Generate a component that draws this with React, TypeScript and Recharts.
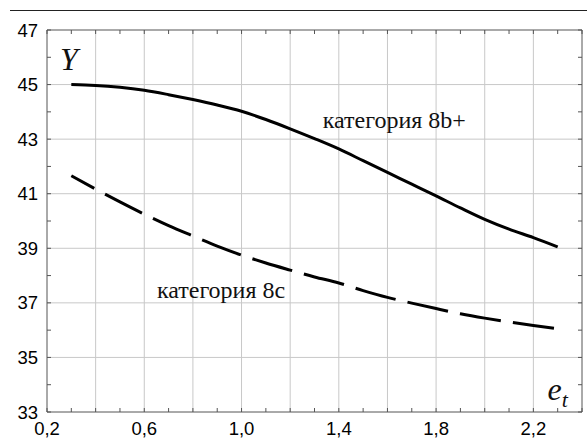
import React from 'react';
import { LineChart, Line, XAxis, YAxis, ReferenceDot } from 'recharts';

// e_t values
const xValues = [0.3, 0.4, 0.5, 0.6, 0.7, 0.8, 0.9, 1.0, 1.1, 1.2, 1.3, 1.4, 1.5, 1.6, 1.7, 1.8, 1.9, 2.0, 2.1, 2.2, 2.3];
// категория 8b+ (solid)
const series8bPlus = [45.0, 44.97, 44.9, 44.79, 44.63, 44.45, 44.25, 44.02, 43.72, 43.38, 43.02, 42.64, 42.21, 41.78, 41.35, 40.92, 40.48, 40.06, 39.7, 39.39, 39.05];
// категория 8c (dashed)
const series8c = [41.66, 41.17, 40.7, 40.25, 39.83, 39.45, 39.08, 38.75, 38.46, 38.2, 37.95, 37.73, 37.45, 37.2, 36.99, 36.79, 36.6, 36.44, 36.3, 36.17, 36.05];

const xTicks = [0.2, 0.3, 0.4, 0.5, 0.6, 0.7, 0.8, 0.9, 1.0, 1.1, 1.2, 1.3, 1.4, 1.5, 1.6, 1.7, 1.8, 1.9, 2.0, 2.1, 2.2, 2.3, 2.4];
const xLabelTicks = [0.2, 0.6, 1.0, 1.4, 1.8, 2.2];
const xGridTicks = [0.4, 0.6, 0.8, 1.0, 1.2, 1.4, 1.6, 1.8, 2.0, 2.2];
const yTicks = [33, 34, 35, 36, 37, 38, 39, 40, 41, 42, 43, 44, 45, 46, 47];
const yLabelTicks = [33, 35, 37, 39, 41, 43, 45, 47];
const yGridTicks = [35, 37, 39, 41, 43, 45];
const xDomain = [0.2, 2.4];
const yDomain = [33, 47];

const data = xValues.map((x, i) => ({ x, s8b: series8bPlus[i], s8c: series8c[i] }));
// grid lines as two-point series, built from the tick arrays
const vGrid = xGridTicks.map((v) => [{ x: v, g: yDomain[0] }, { x: v, g: yDomain[1] }]);
const hGrid = yGridTicks.map((v) => [{ x: xDomain[0], g: v }, { x: xDomain[1], g: v }]);

const has = (arr: number[], v: number) => arr.some((t) => Math.abs(t - v) < 1e-6);
const fmtX = (v: number) => (has(xLabelTicks, v) ? v.toFixed(1).replace('.', ',') : '');
const fmtY = (v: number) => (has(yLabelTicks, v) ? String(v) : '');
const fmtNone = () => '';

const tickStyle = { fill: '#000', fontSize: 18.5, fontFamily: '"Liberation Sans", Arial, sans-serif' };
const frame = '#555';
const gridColor = '#c8c8c8';
const serifStyle = { fontFamily: '"Liberation Serif", "Times New Roman", serif' };

// long-dash pattern (first dash shortened, then regular dashes)
const dashPattern = [26.2, 12.2, 41.5, 12.2, 41.5, 12.2, 41.5, 12.2, 41.5, 12.2, 41.5, 12.2, 41.5, 12.2, 41.5, 12.2, 41.5, 12.2, 41.5, 12.2, 41.5, 12.2, 60, 12].join(' ');

const textLabel = (render: (x: number, y: number) => React.ReactNode) => (props: any) => {
  const vb = props.viewBox || {};
  return render(vb.x + (vb.width || 0) / 2, vb.y + (vb.height || 0) / 2);
};

export default function App() {
  return (
    <div style={{ position: 'absolute', left: 0, top: 0, width: 587, height: 444, background: '#fff' }}>
      <div style={{ position: 'absolute', left: 10, top: 10, width: 577, height: 1.3, background: '#222' }} />
      <LineChart width={587} height={444} data={data} margin={{ top: 29, right: 4, bottom: 0, left: 0 }}>
        <XAxis
          xAxisId="xt"
          dataKey="x"
          orientation="top"
          type="number"
          domain={xDomain}
          ticks={xTicks}
          interval={0}
          tickSize={-4}
          tickFormatter={fmtNone}
          tick={{ fontSize: 1, fill: 'none' }}
          height={1}
          stroke={frame}
          allowDataOverflow
        />
        <YAxis
          yAxisId="yr"
          orientation="right"
          type="number"
          domain={yDomain}
          ticks={yTicks}
          interval={0}
          tickSize={-4}
          tickFormatter={fmtNone}
          tick={{ fontSize: 1, fill: 'none' }}
          width={1}
          stroke={frame}
          allowDataOverflow
        />
        <XAxis
          dataKey="x"
          type="number"
          domain={xDomain}
          ticks={xTicks}
          interval={0}
          tickSize={-4}
          tickMargin={14}
          tickFormatter={fmtX}
          tick={tickStyle}
          height={32}
          stroke={frame}
          allowDataOverflow
        />
        <YAxis
          type="number"
          domain={yDomain}
          ticks={yTicks}
          interval={0}
          tickSize={-4}
          tickMargin={13}
          tickFormatter={fmtY}
          tick={tickStyle}
          width={47}
          stroke={frame}
          allowDataOverflow
        />
        <Line
          xAxisId="xt"
          yAxisId="yr"
          dataKey="s8b"
          stroke="none"
          strokeWidth={0}
          dot={false}
          activeDot={false}
          isAnimationActive={false}
        />
        {vGrid.map((d, i) => (
          <Line
            key={`vg${i}`}
            data={d}
            dataKey="g"
            type="linear"
            stroke={gridColor}
            strokeWidth={1}
            dot={false}
            activeDot={false}
            isAnimationActive={false}
          />
        ))}
        {hGrid.map((d, i) => (
          <Line
            key={`hg${i}`}
            data={d}
            dataKey="g"
            type="linear"
            stroke={gridColor}
            strokeWidth={1}
            dot={false}
            activeDot={false}
            isAnimationActive={false}
          />
        ))}
        <Line
          type="monotone"
          dataKey="s8b"
          stroke="#000"
          strokeWidth={3}
          dot={false}
          activeDot={false}
          isAnimationActive={false}
        />
        <Line
          type="monotone"
          dataKey="s8c"
          stroke="#000"
          strokeWidth={3}
          strokeDasharray={dashPattern}
          dot={false}
          activeDot={false}
          isAnimationActive={false}
        />
        <ReferenceDot
          x={0.253}
          y={45.53}
          r={0}
          fill="none"
          stroke="none"
          label={{
            content: textLabel((x, y) => (
              <text x={x} y={y} style={{ ...serifStyle, fontStyle: 'italic', fontSize: 32 }} fill="#111">
                Y
              </text>
            )),
          }}
        />
        <ReferenceDot
          x={1.334}
          y={43.42}
          r={0}
          fill="none"
          stroke="none"
          label={{
            content: textLabel((x, y) => (
              <text x={x} y={y} style={{ ...serifStyle, fontSize: 24 }} fill="#111">
                категория 8b+
              </text>
            )),
          }}
        />
        <ReferenceDot
          x={0.652}
          y={37.17}
          r={0}
          fill="none"
          stroke="none"
          label={{
            content: textLabel((x, y) => (
              <text x={x} y={y} style={{ ...serifStyle, fontSize: 24 }} fill="#111">
                категория 8c
              </text>
            )),
          }}
        />
        <ReferenceDot
          x={2.258}
          y={33.45}
          r={0}
          fill="none"
          stroke="none"
          label={{
            content: textLabel((x, y) => (
              <text x={x} y={y} style={{ ...serifStyle, fontStyle: 'italic', fontSize: 32 }} fill="#111">
                e
                <tspan style={{ fontSize: 22 }} dy={7}>t</tspan>
              </text>
            )),
          }}
        />
      </LineChart>
    </div>
  );
}
